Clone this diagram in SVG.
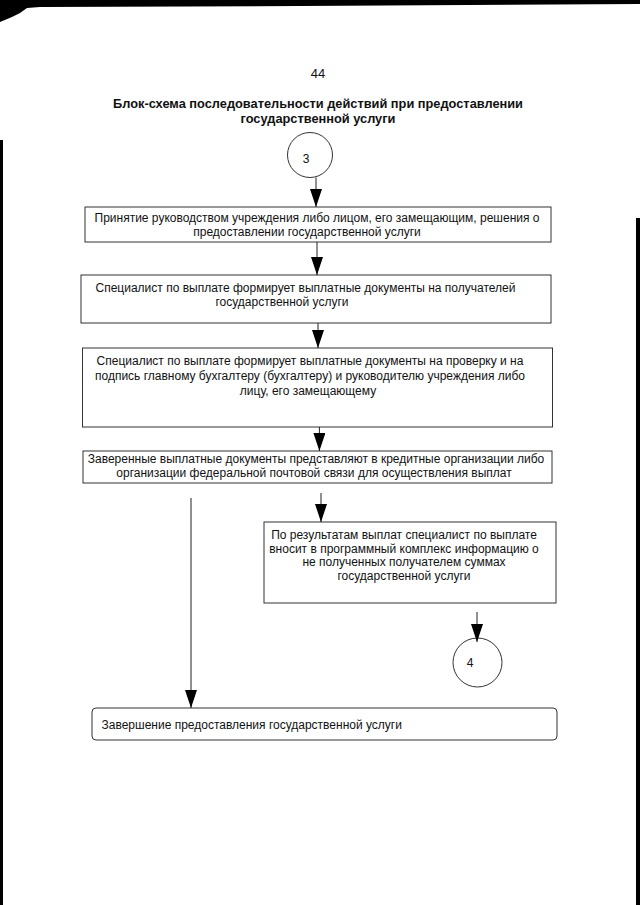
<svg xmlns="http://www.w3.org/2000/svg" width="640" height="905" viewBox="0 0 640 905">
<style>
  .t { font-family: "Liberation Sans", Arial, sans-serif; font-size: 12px; fill: #111; }
  .c { text-anchor: middle; }
  .title { font-family: "Liberation Sans", Arial, sans-serif; font-size: 12.8px; font-weight: bold; fill: #111; text-anchor: middle; }
  .box { fill: #fff; stroke: #333; stroke-width: 1; }
  .conn line { stroke: #222; stroke-width: 1; marker-end: url(#ah); }
</style>
<defs>
  <marker id="ah" markerUnits="userSpaceOnUse" markerWidth="18" markerHeight="12" refX="18" refY="6" orient="auto">
    <path d="M0,0 L18,6 L0,12 Z" fill="#000"/>
  </marker>
</defs>
<rect width="640" height="905" fill="#fff"/>
<g id="scan-edges" fill="#000">
  <polygon points="0,0 640,0 640,4 300,6 40,7 27,8 20,13 12,17 0,22"/>
  <rect x="0" y="140" width="3" height="765"/>
  <rect x="636" y="218" width="4" height="687"/>
</g>
<text class="t c" x="318" y="78" style="font-size:13px">44</text>
<g id="title">
  <text class="title" x="318" y="108">Блок-схема последовательности действий при предоставлении</text>
  <text class="title" x="318" y="123">государственной услуги</text>
</g>
<g id="start3">
  <circle cx="310" cy="155" r="22.5" fill="#fff" stroke="#333"/>
  <text class="t c" x="306" y="163">3</text>
</g>
<g id="decision">
  <rect class="box" x="85" y="207" width="466" height="35"/>
  <text class="t c" x="317" y="222">Принятие руководством учреждения либо лицом, его замещающим, решения о</text>
  <text class="t c" x="307" y="236">предоставлении государственной услуги</text>
</g>
<g id="form-docs">
  <rect class="box" x="81" y="275" width="470" height="48"/>
  <text class="t c" x="305.5" y="291.5">Специалист по выплате формирует выплатные документы на получателей</text>
  <text class="t c" x="282" y="305.5">государственной услуги</text>
</g>
<g id="check-docs">
  <rect class="box" x="82.5" y="348" width="470" height="79"/>
  <text class="t c" x="310" y="365">Специалист по выплате формирует выплатные документы на проверку и на</text>
  <text class="t c" x="310" y="380">подпись главному бухгалтеру (бухгалтеру) и руководителю учреждения либо</text>
  <text class="t c" x="308" y="394.5">лицу, его замещающему</text>
</g>
<g id="submit-docs">
  <rect class="box" x="83" y="451" width="469" height="32"/>
  <text class="t c" x="316" y="463">Заверенные выплатные документы представляют в кредитные организации либо</text>
  <text class="t c" x="314" y="477">организации федеральной почтовой связи для осуществления выплат</text>
</g>
<g id="results">
  <rect class="box" x="264" y="522" width="292" height="81"/>
  <text class="t c" x="404" y="539">По результатам выплат специалист по выплате</text>
  <text class="t c" x="404" y="552.5">вносит в программный комплекс информацию о</text>
  <text class="t c" x="404" y="566">не полученных получателем суммах</text>
  <text class="t c" x="404" y="579.5">государственной услуги</text>
</g>
<g id="end4">
  <circle cx="477.5" cy="662.5" r="24.5" fill="#fff" stroke="#333"/>
  <text class="t c" x="470" y="667">4</text>
</g>
<g id="finish">
  <rect class="box" x="92" y="708" width="465" height="32" rx="4"/>
  <text class="t" x="101.5" y="729">Завершение предоставления государственной услуги</text>
</g>
<g id="connectors" class="conn">
  <line x1="316" y1="177.5" x2="316" y2="207"/>
  <line x1="317" y1="242" x2="317" y2="275"/>
  <line x1="318" y1="323" x2="318" y2="348"/>
  <line x1="319.4" y1="427" x2="319.4" y2="451"/>
  <line x1="321" y1="493" x2="321" y2="522"/>
  <line x1="191" y1="498" x2="191" y2="708"/>
  <line x1="477" y1="612" x2="477" y2="642"/>
</g>
</svg>
